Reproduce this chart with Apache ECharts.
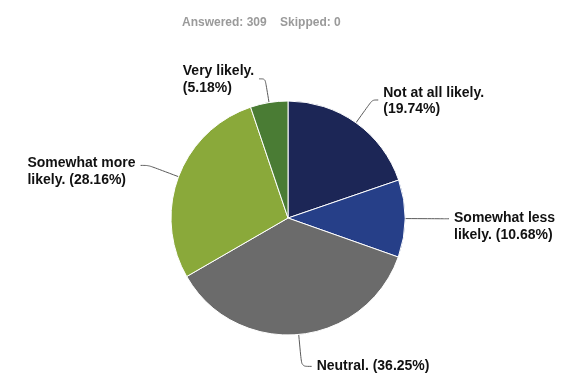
<!DOCTYPE html>
<html>
<head>
<meta charset="utf-8">
<script src="https://cdn.jsdelivr.net/npm/echarts@6/dist/echarts.min.js"></script>
<style>
html, body { margin: 0; padding: 0; background: #fff; }
#main { width: 581px; height: 375px; }
</style>
</head>
<body>
<div id="main"></div>
<script>
var answers = ['Not at all likely.', 'Somewhat less likely.', 'Neutral.', 'Somewhat more likely.', 'Very likely.'];
var labelLines = [
    ['Not at all likely.', '(19.74%)'],
    ['Somewhat less', 'likely. (10.68%)'],
    ['Neutral. (36.25%)'],
    ['Somewhat more', 'likely. (28.16%)'],
    ['Very likely.', '(5.18%)']
];
var percents = [19.74, 10.68, 36.25, 28.16, 5.18];
var colors = ['#1c2656', '#263f88', '#6b6b6b', '#8aa93a', '#4a7c34'];
var lineLengths = [[28, 6], [40, 4], [32, 10], [32, 8], [24, 6]];
var labelShift = [2, 16, 0, 12, 2];

var data = answers.map(function (a, i) {
    return {
        name: a,
        value: percents[i],
        itemStyle: { color: colors[i] },
        label: {
            padding: [labelShift[i], 0, 0, 0],
            formatter: labelLines[i].map(function (s) { return '{t|' + s + '}'; }).join('\n')
        },
        labelLine: { length: lineLengths[i][0], length2: lineLengths[i][1] }
    };
});

var option = {
    animation: false,
    title: {
        text: 'Answered: 309    Skipped: 0',
        left: 177,
        top: 12,
        textStyle: {
            fontFamily: 'Liberation Sans',
            fontSize: 12,
            fontWeight: 'bold',
            color: '#9a9a9a'
        }
    },
    series: [{
        type: 'pie',
        center: [288, 218],
        radius: 117,
        startAngle: 90,
        clockwise: true,
        data: data,
        itemStyle: {
            borderColor: '#ffffff',
            borderWidth: 1
        },
        label: {
            show: true,
            distanceToLabelLine: 5,
            rich: {
                t: {
                    align: 'left',
                    fontFamily: 'Liberation Sans',
                    fontSize: 14,
                    fontWeight: 'bold',
                    color: '#111',
                    lineHeight: 16.5
                }
            }
        },
        labelLine: {
            show: true,
            smooth: 0.3,
            lineStyle: { color: '#5a5a5a', width: 1 }
        }
    }]
};
var myChart = echarts.init(document.getElementById('main'));
myChart.setOption(option);
</script>
</body>
</html>
